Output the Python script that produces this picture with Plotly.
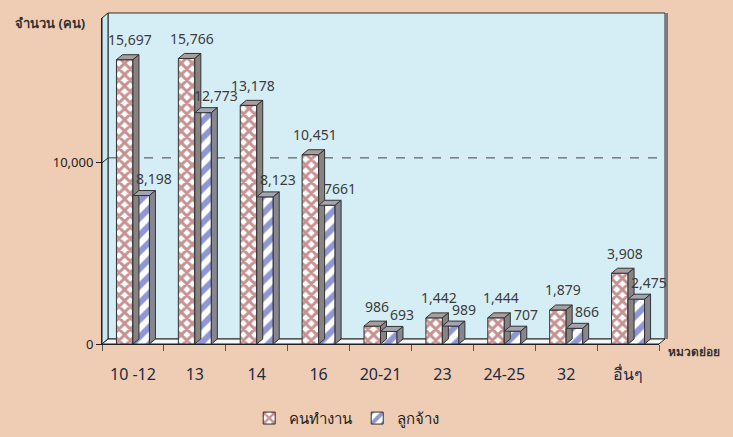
import plotly.graph_objects as go

categories = ["10 -12", "13", "14", "16", "20-21", "23", "24-25", "32", "อื่นๆ"]
workers = [15697, 15766, 13178, 10451, 986, 1442, 1444, 1879, 3908]
employees = [8198, 12773, 8123, 7661, 693, 989, 707, 866, 2475]
worker_labels = ["15,697", "15,766", "13,178", "10,451", "986", "1,442", "1,444", "1,879", "3,908"]
employee_labels = ["8,198", "12,773", "8,123", "7661", "693", "989", "707", "866", "2,475"]
series_names = ["คนทำงาน", "ลูกจ้าง"]
y_ticks = [0, 10000]
y_tick_text = ["0", "10,000"]

W, H = 733, 437
ML, MR, MT, MB = 102, 74, 18, 93
PW, PH = W - ML - MR, H - MT - MB
YMAX = 18000
DX_PX, DY_PX = 6, 5
fx, fy = DX_PX / PW, DY_PX / PH
dx = DX_PX / (PW / 9)
dy = DY_PX / PH * YMAX
BARGAP = 0.467
bw = (1 - BARGAP) / 2

PAPER = "#EECDB4"
WALL = "#D5EDF4"
FONT = "Noto Sans, DejaVu Sans, sans-serif"

xs = list(range(len(categories)))
fig = go.Figure()
fig.add_trace(go.Bar(
    x=xs, y=workers, name=series_names[0],
    marker=dict(color="white", line=dict(color="#333333", width=1),
                pattern=dict(shape="x", fgcolor="#8E2424", bgcolor="white", size=8, solidity=0.6)),
))
fig.add_trace(go.Bar(
    x=xs, y=employees, name=series_names[1],
    marker=dict(color="white", line=dict(color="#333333", width=1),
                pattern=dict(shape="/", fgcolor="#1F30A6", bgcolor="white", size=12, solidity=0.5)),
))

shapes = []
shapes.append(dict(type="rect", xref="paper", yref="paper", x0=fx, x1=1 + fx, y0=fy, y1=1 + fy,
                   fillcolor=WALL, line=dict(color="#333333", width=1), layer="below"))
shapes.append(dict(type="line", xref="paper", yref="paper", x0=1 + fx + 1.5 / PW, x1=1 + fx + 1.5 / PW,
                   y0=fy, y1=1 + fy, line=dict(color="#7a7a7a", width=3), layer="below"))
shapes.append(dict(type="path", xref="paper", yref="paper",
                   path=f"M 0,0 L {fx},{fy} L {fx},{1+fy} L 0,1 Z",
                   fillcolor="#C6E9F3", line=dict(color="#222222", width=1), layer="below"))
shapes.append(dict(type="path", xref="paper", yref="paper",
                   path=f"M 0,0 L 1,0 L {1+fx},{fy} L {fx},{fy} Z",
                   fillcolor="#F6F6F6", line=dict(color="#222222", width=1), layer="below"))
g = 10000 / YMAX
shapes.append(dict(type="line", xref="paper", yref="paper", x0=fx, x1=1 + fx, y0=g + fy, y1=g + fy,
                   line=dict(color="#444444", width=1, dash="dash"), layer="below"))
shapes.append(dict(type="line", xref="paper", yref="paper", x0=0, x1=fx, y0=g, y1=g + fy,
                   line=dict(color="#222222", width=1), layer="below"))

def faces(x0, x1, v, top_col, side_col):
    return [
        dict(type="path", xref="x", yref="y",
             path=f"M {x0},{v} L {x1},{v} L {x1+dx},{v+dy} L {x0+dx},{v+dy} Z",
             fillcolor=top_col, line=dict(color="#333333", width=1)),
        dict(type="path", xref="x", yref="y",
             path=f"M {x1},0 L {x1},{v} L {x1+dx},{v+dy} L {x1+dx},{dy} Z",
             fillcolor=side_col, line=dict(color="#333333", width=1)),
    ]

for i in xs:
    shapes += faces(i - bw, i, workers[i], "#A89E9E", "#888282")
    shapes += faces(i, i + bw, employees[i], "#A2A4B2", "#85868F")

LABEL_FONT = dict(size=14, color="#3C3C3C", family=FONT)
annotations = []
for i in xs:
    annotations.append(dict(x=i - bw / 2, y=workers[i], xref="x", yref="y", text=worker_labels[i],
                            showarrow=False, xshift=5, yshift=20, yanchor="middle", font=LABEL_FONT))
    annotations.append(dict(x=i + bw / 2, y=employees[i], xref="x", yref="y", text=employee_labels[i],
                            showarrow=False, xshift=13, yshift=17, yanchor="middle", font=LABEL_FONT))
extra = [
    dict(px=13, py=23, text="<b>จำนวน (คน)</b>", xanchor="left", size=13),
    dict(px=694, py=351, text="<b>หมวดย่อย</b>", xanchor="center", size=12),
]
for e in extra:
    annotations.append(dict(x=(e["px"] - ML) / PW, y=(H - e["py"] - MB) / PH, xref="paper", yref="paper",
                            text=e["text"], showarrow=False, xanchor=e["xanchor"], yanchor="middle",
                            font=dict(size=e["size"], color="#333333", family=FONT)))

fig.update_layout(
    width=W, height=H,
    margin=dict(l=ML, r=MR, t=MT, b=MB, autoexpand=False),
    paper_bgcolor=PAPER, plot_bgcolor="rgba(0,0,0,0)",
    barmode="group", bargap=BARGAP, bargroupgap=0,
    showlegend=True,
    legend=dict(orientation="h", xref="container", yref="container", x=0.473, xanchor="center",
                y=0.005, yanchor="bottom", font=dict(size=15, color="#222222", family=FONT),
                bgcolor="rgba(0,0,0,0)", itemwidth=30),
    shapes=shapes, annotations=annotations,
    xaxis=dict(range=[-0.5, 8.5], tickvals=xs, ticktext=categories, ticks="",
               showgrid=False, zeroline=False, showline=True, linecolor="#222222", linewidth=1,
               ticklabelstandoff=16, tickfont=dict(size=16, color="#1B2B45", family=FONT),
               minor=dict(tick0=-0.5, dtick=1, ticks="outside", ticklen=6, tickcolor="#555555", tickwidth=1),
               fixedrange=True),
    yaxis=dict(range=[0, YMAX], tickvals=y_ticks, ticktext=y_tick_text, ticks="outside", ticklen=5,
               tickcolor="#222222", showgrid=False, zeroline=False, showline=True, linecolor="#222222",
               linewidth=1, tickfont=dict(size=13, color="#222222", family=FONT), fixedrange=True),
)

fig.write_html("out.html", config={"displayModeBar": False},
               post_script="document.body.style.margin='0';document.body.style.background='#EECDB4';")
